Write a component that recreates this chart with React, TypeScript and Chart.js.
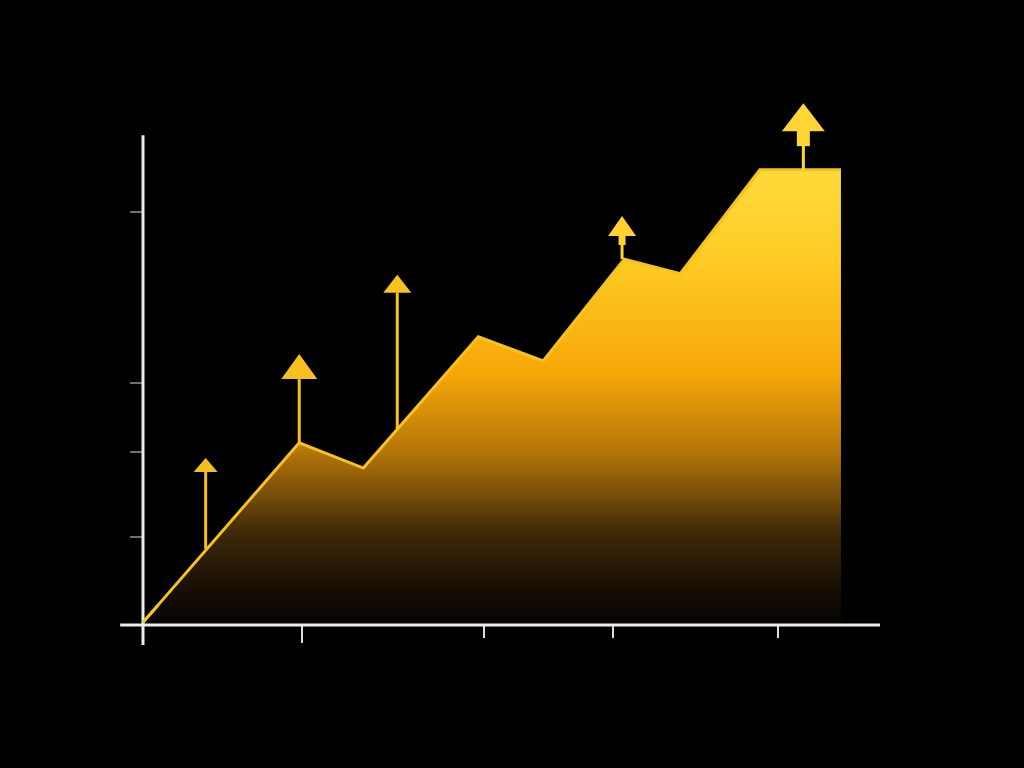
import { useEffect, useRef } from "react";
import { Chart, registerables } from "chart.js";

Chart.register(...registerables);

// Data (x and y in abstract units)
const xValues = [0, 21.2, 29.9, 45.5, 54.3, 65.3, 72.9, 83.7, 94.7];
const yValues = [0.5, 34.7, 29.9, 54.9, 50.3, 69.7, 66.9, 86.7, 86.7];
const xTicks = [21.6, 46.3, 63.8, 86.2];
const yTicks = [16.8, 33.0, 46.1, 78.7];
const arrowX = [8.5, 21.2, 34.5, 65.0, 89.6];
const arrowFrom = [14.5, 34.7, 37.3, 69.7, 86.7];
const arrowTo = [31.8, 51.6, 66.7, 77.9, 99.4];

// Arrow styling (pixels)
const arrowHeadW = [24, 36, 28, 28, 43];
const arrowHeadH = [14, 25, 18, 20, 28];
const arrowBlockW = [0, 0, 0, 7, 13];
const arrowBlockH = [0, 0, 0, 9, 15];
const arrowColor = ["#F4BE1C", "#F7C01E", "#F8C41F", "#FFD22E", "#FFD633"];

function drawAxes(chart: any) {
  const ctx = chart.ctx;
  const xs = chart.scales.x;
  const ys = chart.scales.y;
  const x0 = xs.getPixelForValue(0);
  const y0 = ys.getPixelForValue(0);
  ctx.save();
  ctx.strokeStyle = "#707070";
  ctx.lineWidth = 2;
  yTicks.forEach((v) => {
    const py = Math.round(ys.getPixelForValue(v));
    ctx.beginPath();
    ctx.moveTo(x0 - 13, py);
    ctx.lineTo(x0, py);
    ctx.stroke();
  });
  ctx.strokeStyle = "#dcdcdc";
  xTicks.forEach((v, i) => {
    const px = Math.round(xs.getPixelForValue(v));
    ctx.beginPath();
    ctx.moveTo(px, y0);
    ctx.lineTo(px, y0 + (i === 0 ? 18 : 13));
    ctx.stroke();
  });
  ctx.strokeStyle = "#ececec";
  ctx.lineWidth = 3;
  ctx.beginPath();
  ctx.moveTo(x0, ys.getPixelForValue(93.3));
  ctx.lineTo(x0, ys.getPixelForValue(-3.8));
  ctx.stroke();
  ctx.beginPath();
  ctx.moveTo(xs.getPixelForValue(-3.1), y0);
  ctx.lineTo(xs.getPixelForValue(100), y0);
  ctx.stroke();
  ctx.restore();
}

const axesPlugin = {
  id: "customAxes",
  afterDatasetsDraw(chart: any) {
    drawAxes(chart);
    const ctx = chart.ctx;
    const xs = chart.scales.x;
    const ys = chart.scales.y;
    ctx.save();
    // redraw the start of the line over the axis
    ctx.strokeStyle = "#F6C31C";
    ctx.lineWidth = 3;
    ctx.beginPath();
    ctx.moveTo(xs.getPixelForValue(xValues[0]), ys.getPixelForValue(yValues[0]));
    ctx.lineTo(xs.getPixelForValue(xValues[0] + 2), ys.getPixelForValue(yValues[0] + (yValues[1] - yValues[0]) * 2 / (xValues[1] - xValues[0])));
    ctx.stroke();
    arrowX.forEach((v, i) => {
      const px = xs.getPixelForValue(v);
      const pFrom = ys.getPixelForValue(arrowFrom[i]);
      const pTo = ys.getPixelForValue(arrowTo[i]);
      const hb = pTo + arrowHeadH[i];
      ctx.fillStyle = arrowColor[i];
      ctx.strokeStyle = arrowColor[i];
      ctx.lineWidth = 3;
      ctx.beginPath();
      ctx.moveTo(px, pFrom);
      ctx.lineTo(px, hb);
      ctx.stroke();
      if (arrowBlockW[i] > 0) {
        ctx.fillRect(px - arrowBlockW[i] / 2, hb - 1, arrowBlockW[i], arrowBlockH[i] + 1);
      }
      ctx.beginPath();
      ctx.moveTo(px, pTo);
      ctx.lineTo(px + arrowHeadW[i] / 2, hb);
      ctx.lineTo(px - arrowHeadW[i] / 2, hb);
      ctx.closePath();
      ctx.fill();
    });
    ctx.restore();
  },
};

export default function App() {
  const ref = useRef<HTMLCanvasElement | null>(null);
  useEffect(() => {
    if (!ref.current) return;
    const chart = new Chart(ref.current, {
      type: "line",
      data: {
        datasets: [
          {
            data: xValues.map((x, i) => ({ x, y: yValues[i] })),
            borderColor: "#F6C31C",
            borderWidth: 3,
            pointRadius: 0,
            tension: 0,
            fill: "origin",
            clip: false as any,
            backgroundColor: (c: any) => {
              const area = c.chart.chartArea;
              if (!area) return "#f5a800";
              const g = c.chart.ctx.createLinearGradient(0, c.chart.scales.y.getPixelForValue(87), 0, c.chart.scales.y.getPixelForValue(0));
              g.addColorStop(0, "#FFDB3C");
              g.addColorStop(0.2, "#FFCB25");
              g.addColorStop(0.45, "#F6A708");
              g.addColorStop(0.62, "#B5760A");
              g.addColorStop(0.8, "#3E2807");
              g.addColorStop(0.93, "#140d04");
              g.addColorStop(1, "#050302");
              return g;
            },
          },
        ],
      },
      options: {
        animation: false,
        responsive: false,
        maintainAspectRatio: false,
        layout: { padding: { left: 143, right: 144, top: 100, bottom: 143 } },
        plugins: { legend: { display: false }, tooltip: { enabled: false } },
        scales: {
          x: { type: "linear", min: 0, max: 100, display: false },
          y: { type: "linear", min: 0, max: 100, display: false },
        },
      },
      plugins: [axesPlugin],
    });
    return () => chart.destroy();
  }, []);
  return (
    <div style={{ position: "fixed", left: 0, top: 0, width: 1024, height: 768, background: "#000" }}>
      <canvas ref={ref} width={1024} height={768} style={{ display: "block", width: 1024, height: 768 }} />
    </div>
  );
}
